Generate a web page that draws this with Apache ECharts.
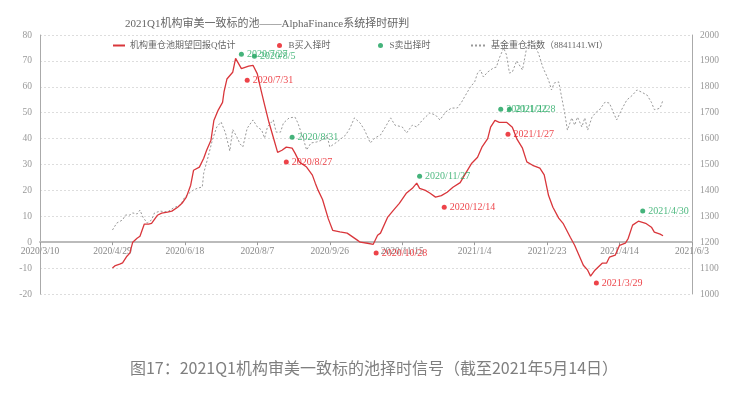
<!DOCTYPE html>
<html>
<head>
<meta charset="utf-8">
<script src="https://cdn.jsdelivr.net/npm/echarts@6/dist/echarts.min.js"></script>
<style>
  html, body { margin: 0; padding: 0; background: #fff; }
  #chart { width: 748px; height: 397px; }
</style>
</head>
<body>
<div id="chart"></div>
<script>
// 机构重仓池期望回报Q估计 (左轴)
const qDates = ['2020/4/29','2020/5/1','2020/5/4','2020/5/6','2020/5/9','2020/5/11','2020/5/13','2020/5/16','2020/5/18','2020/5/21','2020/5/24','2020/5/26','2020/5/30','2020/6/2','2020/6/6','2020/6/9','2020/6/13','2020/6/16','2020/6/19','2020/6/22','2020/6/24','2020/6/28','2020/7/1','2020/7/3','2020/7/6','2020/7/8','2020/7/11','2020/7/14','2020/7/15','2020/7/17','2020/7/21','2020/7/23','2020/7/27','2020/8/1','2020/8/4','2020/8/7','2020/8/9','2020/8/12','2020/8/15','2020/8/18','2020/8/21','2020/8/24','2020/8/27','2020/8/31','2020/9/2','2020/9/5','2020/9/10','2020/9/14','2020/9/16','2020/9/18','2020/9/21','2020/9/25','2020/9/28','2020/10/3','2020/10/8','2020/10/15','2020/10/17','2020/10/22','2020/10/26','2020/10/29','2020/10/31','2020/11/5','2020/11/9','2020/11/13','2020/11/18','2020/11/22','2020/11/25','2020/11/27','2020/12/1','2020/12/4','2020/12/8','2020/12/12','2020/12/16','2020/12/20','2020/12/25','2020/12/28','2021/1/2','2021/1/6','2021/1/9','2021/1/13','2021/1/15','2021/1/18','2021/1/21','2021/1/26','2021/1/30','2021/2/2','2021/2/6','2021/2/9','2021/2/13','2021/2/18','2021/2/21','2021/2/24','2021/2/27','2021/3/3','2021/3/6','2021/3/11','2021/3/14','2021/3/17','2021/3/20','2021/3/23','2021/3/25','2021/3/28','2021/4/2','2021/4/5','2021/4/7','2021/4/11','2021/4/14','2021/4/18','2021/4/20','2021/4/23','2021/4/27','2021/5/2','2021/5/6','2021/5/8','2021/5/12','2021/5/14'];
const qValues = [-10,-9,-8.5,-8,-5.4,-4.2,0,1.5,2.3,7,7,7.3,10.4,11.2,11.6,12,13.5,15,17.4,22,27.8,29,32.4,35.5,39.4,47,51,54,58,63,65.6,71,67,68,68.3,65,60,53,46.3,40.5,34.7,35.5,36.7,36.3,34.4,31,29,25.9,22.8,20,16.5,9,4.6,4,3.5,0.8,0,-0.4,-0.8,2.7,3.5,9.7,12.4,15,19,20.8,22.8,20.8,20,19,17.4,18,19.3,21.2,23,25.9,30.5,32.8,36.7,40,44.4,47,46.3,46.3,44.4,40,36.3,31,29.7,28.6,26,18,13.5,9.3,7.3,1.9,-1.2,-5,-8.9,-10.8,-13.1,-10.8,-8.1,-8.1,-5.8,-5,-1.2,-0.4,1.5,6.6,8.1,7.3,5.8,3.9,3.1,2.5];

// 基金重仓指数（8841141.WI）(右轴)
const idxDates = ['2020/4/29','2020/5/2','2020/5/6','2020/5/8','2020/5/11','2020/5/13','2020/5/16','2020/5/18','2020/5/20','2020/5/23','2020/5/26','2020/5/28','2020/6/1','2020/6/6','2020/6/10','2020/6/15','2020/6/18','2020/6/22','2020/6/24','2020/6/27','2020/6/30','2020/7/1','2020/7/4','2020/7/7','2020/7/10','2020/7/13','2020/7/16','2020/7/19','2020/7/21','2020/7/24','2020/7/26','2020/7/28','2020/7/31','2020/8/4','2020/8/7','2020/8/10','2020/8/12','2020/8/14','2020/8/18','2020/8/20','2020/8/23','2020/8/25','2020/8/29','2020/9/2','2020/9/4','2020/9/8','2020/9/10','2020/9/13','2020/9/17','2020/9/21','2020/9/24','2020/9/26','2020/10/1','2020/10/7','2020/10/10','2020/10/13','2020/10/17','2020/10/20','2020/10/24','2020/10/27','2020/10/31','2020/11/3','2020/11/7','2020/11/10','2020/11/15','2020/11/18','2020/11/22','2020/11/25','2020/11/29','2020/12/4','2020/12/8','2020/12/11','2020/12/15','2020/12/19','2020/12/23','2020/12/26','2020/12/28','2021/1/1','2021/1/4','2021/1/6','2021/1/8','2021/1/10','2021/1/13','2021/1/17','2021/1/19','2021/1/21','2021/1/24','2021/1/26','2021/1/28','2021/1/30','2021/2/2','2021/2/6','2021/2/9','2021/2/13','2021/2/17','2021/2/20','2021/2/24','2021/2/26','2021/2/28','2021/3/3','2021/3/5','2021/3/7','2021/3/9','2021/3/12','2021/3/14','2021/3/16','2021/3/19','2021/3/21','2021/3/23','2021/3/26','2021/3/29','2021/3/31','2021/4/4','2021/4/7','2021/4/12','2021/4/16','2021/4/19','2021/4/23','2021/4/26','2021/4/29','2021/5/3','2021/5/6','2021/5/8','2021/5/10','2021/5/12','2021/5/14'];
const idxValues = [1247,1274,1286,1305,1305,1313,1309,1324,1297,1274,1286,1313,1320,1317,1332,1344,1375,1394,1402,1409,1413,1467,1529,1595,1645,1664,1622,1552,1635,1605,1580,1568,1640,1672,1645,1633,1602,1645,1672,1625,1625,1660,1680,1683,1660,1595,1556,1583,1587,1595,1614,1568,1587,1614,1641,1680,1660,1633,1583,1602,1614,1641,1680,1652,1645,1622,1652,1645,1672,1699,1691,1672,1703,1718,1718,1741,1761,1799,1819,1853,1865,1838,1857,1873,1876,1911,1950,1923,1853,1857,1900,1865,1954,1973,1930,1876,1826,1788,1815,1819,1761,1703,1633,1680,1652,1683,1645,1680,1633,1683,1703,1710,1741,1737,1672,1718,1749,1768,1788,1780,1768,1740,1712,1714,1718,1749];

// B买入择时 / S卖出择时
const buyDates = ['2020/7/31','2020/8/27','2020/10/28','2020/12/14','2021/1/27','2021/3/29'];
const buyValues = [62.5,31,-4.2,13.5,41.7,-15.8];
const sellDates = ['2020/7/27','2020/8/5','2020/8/31','2020/11/27','2021/1/22','2021/1/28','2021/4/30'];
const sellValues = [72.6,71.8,40.5,25.5,51.3,51.3,12];

const BASE = Date.UTC(2020, 2, 10);
function dayOf(s) {
  const p = s.split('/').map(Number);
  return Math.round((Date.UTC(p[0], p[1] - 1, p[2]) - BASE) / 86400000);
}
function dateOf(d) {
  const t = new Date(BASE + d * 86400000);
  return t.getUTCFullYear() + '/' + (t.getUTCMonth() + 1) + '/' + t.getUTCDate();
}

const FONT = 'Liberation Serif, Noto Sans CJK SC';
const RED = '#d9363b';
const GREEN = '#16a05a';
const legendText = { fontSize: 9, color: '#666', fontFamily: FONT };

const chart = echarts.init(document.getElementById('chart'));
chart.setOption({
  animation: false,
  backgroundColor: '#fff',
  textStyle: { fontFamily: FONT },
  title: {
    text: '2021Q1机构审美一致标的池——AlphaFinance系统择时研判',
    left: 120, top: 14,
    textStyle: { fontSize: 11, fontWeight: 'normal', color: '#666', fontFamily: FONT }
  },
  // 图例逐项摆放
  legend: [
    { left: 107, top: 36, itemWidth: 12, itemHeight: 6, textStyle: legendText,
      data: [{ name: '机构重仓池期望回报Q估计', itemStyle: { opacity: 0 } }] },
    { left: 272, top: 36, itemWidth: 8, itemHeight: 5, textStyle: legendText, data: ['B买入择时'] },
    { left: 373, top: 36, itemWidth: 8, itemHeight: 5, textStyle: legendText, data: ['S卖出择时'] },
    { left: 465, top: 36, itemWidth: 15, itemHeight: 6, textStyle: legendText,
      data: [{ name: '基金重仓指数（8841141.WI）', itemStyle: { opacity: 0 } }] }
  ],
  grid: { left: 40, right: 56, top: 35, bottom: 103 },
  xAxis: {
    type: 'value', min: 0, max: 450, interval: 50,
    // 横轴放在左轴的0处
    offset: -51.8,
    axisLine: { onZero: false, lineStyle: { color: '#bbb', width: 2 } },
    axisTick: { show: true, length: 3, lineStyle: { color: '#999' } },
    axisLabel: { formatter: v => dateOf(v), fontSize: 9.5, color: '#888', margin: 5, fontFamily: FONT },
    splitLine: { show: false }
  },
  yAxis: [{
    type: 'value', min: -20, max: 80, interval: 10,
    axisLine: { show: true, lineStyle: { color: '#aaa' } },
    axisTick: { show: false },
    axisLabel: { fontSize: 9.5, color: '#999', margin: 8, fontFamily: FONT },
    splitLine: { lineStyle: { color: '#ddd', type: [2, 2] } }
  }, {
    type: 'value', min: 1000, max: 2000, interval: 100,
    axisLine: { show: true, lineStyle: { color: '#aaa' } },
    axisTick: { show: false },
    axisLabel: { fontSize: 9.5, color: '#999', margin: 8, fontFamily: FONT, formatter: v => String(v) },
    splitLine: { show: false }
  }],
  series: [{
    name: '机构重仓池期望回报Q估计',
    type: 'line', yAxisIndex: 0, symbol: 'none',
    lineStyle: { color: RED, width: 1.3 }, itemStyle: { color: RED },
    data: qDates.map((d, i) => [dayOf(d), qValues[i]]),
    z: 3
  }, {
    name: 'B买入择时',
    type: 'scatter', yAxisIndex: 0, symbolSize: 5,
    itemStyle: { color: '#e8141b' },
    label: { show: true, position: 'right', distance: 3, color: '#e8141b', fontSize: 10, fontFamily: FONT,
      formatter: p => p.value[2] },
    data: buyDates.map((d, i) => [dayOf(d), buyValues[i], d]),
    z: 4
  }, {
    name: 'S卖出择时',
    type: 'scatter', yAxisIndex: 0, symbolSize: 5,
    itemStyle: { color: GREEN },
    label: { show: true, position: 'right', distance: 3, color: '#22a860', fontSize: 10, fontFamily: FONT,
      formatter: p => p.value[2] },
    data: sellDates.map((d, i) => [dayOf(d), sellValues[i], d]),
    z: 4
  }, {
    name: '基金重仓指数（8841141.WI）',
    type: 'line', yAxisIndex: 1, symbol: 'none',
    lineStyle: { color: '#999', width: 1, type: [2, 2] }, itemStyle: { color: '#999' },
    data: idxDates.map((d, i) => [dayOf(d), idxValues[i]]),
    z: 2
  }],
  graphic: [{
    type: 'text', left: 'center', top: 360,
    style: {
      text: '图17：2021Q1机构审美一致标的池择时信号（截至2021年5月14日）',
      fontSize: 16, fill: '#7f7f7f', fontFamily: 'Noto Sans CJK SC'
    }
  }]
});
</script>
</body>
</html>
